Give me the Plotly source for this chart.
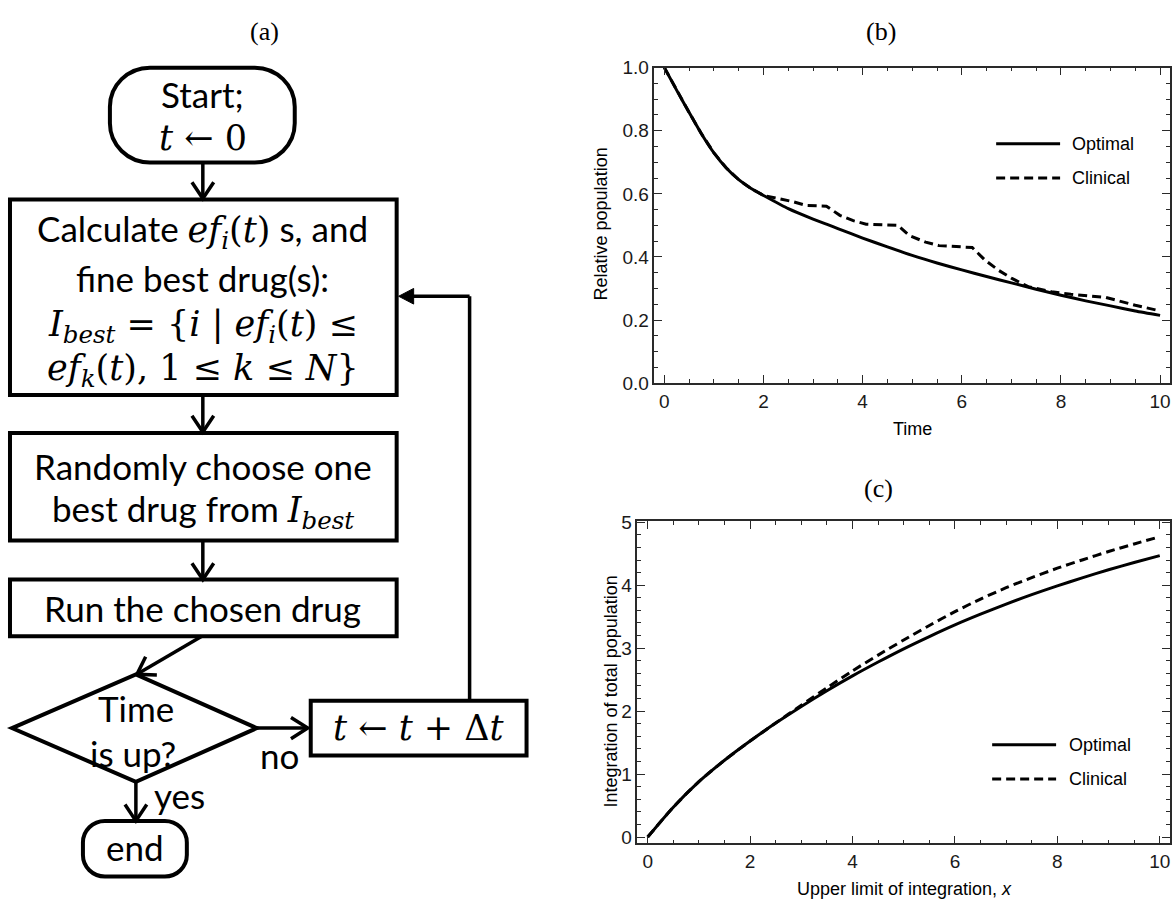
import math
import plotly.graph_objects as go

W, H = 1175, 913

# ---------------- data: panel (b) ----------------
time_opt_b = [0, 0.25, 0.5, 0.75, 1.0, 1.25, 1.5, 1.75, 2.0, 2.5, 3.0, 3.27, 3.5, 4.0,
              4.5, 5.0, 5.5, 6.0, 6.5, 7.0, 7.5, 8.0, 8.5, 9.0, 9.5, 10.0]
optimal_b = [1.0, 0.928, 0.858, 0.79, 0.73, 0.682, 0.645, 0.617, 0.595, 0.553, 0.52, 0.504,
             0.49, 0.46, 0.432, 0.405, 0.381, 0.359, 0.338, 0.318, 0.298, 0.279, 0.261,
             0.245, 0.229, 0.215]
time_clin_b = [0, 0.25, 0.5, 0.75, 1.0, 1.25, 1.5, 1.75, 2.0, 2.34, 2.6, 2.87, 3.27, 3.54,
               3.81, 4.07, 4.4, 4.71, 4.94, 5.27, 5.54, 5.9, 6.21, 6.47, 6.74, 7.01, 7.34,
               7.81, 8.2, 8.9, 9.5, 10.0]
clinical_b = [1.0, 0.928, 0.858, 0.79, 0.73, 0.682, 0.645, 0.617, 0.595, 0.584, 0.575, 0.563,
              0.561, 0.532, 0.515, 0.504, 0.501, 0.500, 0.468, 0.447, 0.436, 0.432, 0.430,
              0.39, 0.358, 0.332, 0.306, 0.29, 0.282, 0.272, 0.247, 0.229]

# ---------------- data: panel (c) ----------------
x_c = [0, 0.5, 1.0, 1.5, 2.0, 2.5, 3.0, 3.5, 4.0, 4.5, 5.0, 5.5, 6.0, 6.5, 7.0, 7.5, 8.0,
       8.5, 9.0, 9.5, 10.0]
optimal_c = [0, 0.475, 0.88, 1.22, 1.525, 1.81, 2.075, 2.325, 2.56, 2.78, 2.99, 3.185, 3.37,
             3.54, 3.70, 3.85, 3.99, 4.12, 4.245, 4.36, 4.47]
clinical_c = [0, 0.475, 0.88, 1.22, 1.525, 1.812, 2.095, 2.37, 2.64, 2.89, 3.13, 3.36, 3.58,
              3.78, 3.96, 4.12, 4.27, 4.405, 4.535, 4.655, 4.77]

series_names = ["Optimal", "Clinical"]
x_ticks = [0, 2, 4, 6, 8, 10]
y_ticks_b = [0.0, 0.2, 0.4, 0.6, 0.8, 1.0]
y_ticks_c = [0, 1, 2, 3, 4, 5]

SANS_PLOT = "Liberation Sans, Arial, sans-serif"
FLOW = "Lato, Open Sans, sans-serif"
MATH = "DejaVu Serif, serif"
SERIF = "Liberation Serif, serif"
INK = "#1a1a1a"
DASH = "9px,5px"


def px(x):
    return x / W


def py(y):
    return 1 - y / H


fig = go.Figure()
fig.add_trace(go.Scatter(x=time_opt_b, y=optimal_b, mode="lines", line=dict(color="black", width=3, shape="spline", smoothing=0.6),
                         xaxis="x", yaxis="y", showlegend=False, name=series_names[0]))
fig.add_trace(go.Scatter(x=time_clin_b, y=clinical_b, mode="lines", line=dict(color="black", width=3, dash=DASH),
                         xaxis="x", yaxis="y", showlegend=False, name=series_names[1]))
fig.add_trace(go.Scatter(x=x_c, y=optimal_c, mode="lines", line=dict(color="black", width=3, shape="spline", smoothing=0.8),
                         xaxis="x2", yaxis="y2", showlegend=False, name=series_names[0]))
fig.add_trace(go.Scatter(x=x_c, y=clinical_c, mode="lines", line=dict(color="black", width=3, dash=DASH, shape="spline", smoothing=0.8),
                         xaxis="x2", yaxis="y2", showlegend=False, name=series_names[1]))


def axis(domain, rng, tickvals, minor_dtick, anchor, fmt=None):
    d = dict(domain=domain, range=rng, anchor=anchor, showline=True, linecolor="#2a2a2a",
             linewidth=1.5, mirror="ticks", ticks="inside", ticklen=8, tickwidth=1.3,
             tickcolor="#2a2a2a", showgrid=False, zeroline=False, tickmode="array",
             tickvals=tickvals, ticktext=[(fmt.format(v) if fmt else str(v)) for v in tickvals],
             tickfont=dict(family=SANS_PLOT, size=19, color=INK),
             minor=dict(ticks="inside", ticklen=4, tickwidth=1.1, tickcolor="#2a2a2a",
                        dtick=minor_dtick, tick0=0, showgrid=False))
    return d


fig.update_layout(
    width=W, height=H, margin=dict(l=0, r=0, t=0, b=0),
    paper_bgcolor="white", plot_bgcolor="white", showlegend=False,
    xaxis=axis([655 / W, 1171 / W], [-0.2, 10.2], x_ticks, 0.5, "y"),
    yaxis=axis([1 - 382 / H, 1 - 59 / H], [0, 1.0], y_ticks_b, 0.05, "x", "{:.1f}"),
    xaxis2=axis([638 / W, 1171 / W], [-0.2, 10.2], x_ticks, 0.5, "y2"),
    yaxis2=axis([1 - 853 / H, 1 - 523 / H], [-0.1, 5.02], y_ticks_c, 0.2, "x2"),
)

shapes = []
ann = []
LW = 4


def line(x0, y0, x1, y1, w=3.5, dash=None):
    d = dict(type="line", xref="paper", yref="paper", x0=px(x0), y0=py(y0), x1=px(x1), y1=py(y1),
             line=dict(color="black", width=w))
    if dash:
        d["line"]["dash"] = dash
    shapes.append(d)


def path(points, close=True, w=LW, fill=None):
    s = "M " + " L ".join(f"{px(x):.5f},{py(y):.5f}" for x, y in points)
    if close:
        s += " Z"
    d = dict(type="path", xref="paper", yref="paper", path=s, line=dict(color="black", width=w))
    if fill:
        d["fillcolor"] = fill
    shapes.append(d)


def rect(x0, y0, x1, y1):
    path([(x0, y0), (x1, y0), (x1, y1), (x0, y1)])


def rrect(x0, y0, x1, y1, r):
    k = 0.5523 * r

    def P(x, y):
        return f"{px(x):.5f},{py(y):.5f}"
    s = (f"M {P(x0 + r, y0)} L {P(x1 - r, y0)} C {P(x1 - r + k, y0)} {P(x1, y0 + r - k)} {P(x1, y0 + r)} "
         f"L {P(x1, y1 - r)} C {P(x1, y1 - r + k)} {P(x1 - r + k, y1)} {P(x1 - r, y1)} "
         f"L {P(x0 + r, y1)} C {P(x0 + r - k, y1)} {P(x0, y1 - r + k)} {P(x0, y1 - r)} "
         f"L {P(x0, y0 + r)} C {P(x0, y0 + r - k)} {P(x0 + r - k, y0)} {P(x0 + r, y0)} Z")
    shapes.append(dict(type="path", xref="paper", yref="paper", path=s, line=dict(color="black", width=LW)))


def arrow(x0, y0, x1, y1, head=20, ang=33):
    line(x0, y0, x1, y1)
    dx, dy = x0 - x1, y0 - y1
    n = math.hypot(dx, dy)
    ux, uy = dx / n, dy / n
    a = math.radians(ang)
    pts = []
    for sgn in (1, -1):
        c, s = math.cos(sgn * a), math.sin(sgn * a)
        pts.append((x1 + head * (ux * c - uy * s), y1 + head * (ux * s + uy * c)))
    path([pts[0], (x1, y1), pts[1]], close=False, w=3.5)


def txt(x, y, s, size, font=FLOW, **kw):
    d = dict(x=px(x), y=py(y), xref="paper", yref="paper", text=s, showarrow=False,
             font=dict(family=font, size=size, color="black"), xanchor="center", yanchor="middle")
    d.update(kw)
    ann.append(d)


def M(s):
    return f'<span style="font-family:DejaVu Serif">{s}</span>'


# ---------------- flowchart (a) ----------------
FS = 35
MS = 35
rrect(110, 59, 295, 156, 40)
txt(203, 86, "Start;", FS)
txt(203, 131, M("<i>t</i> ← 0"), MS, font=MATH)
arrow(203, 156, 203, 193)

rect(10, 194, 397, 394)
txt(203, 226, "Calculate " + M("<i>ef</i><sub><i>i</i></sub>(<i>t</i>)") + " s, and", FS)
txt(203, 274, "fine best drug(s):", FS)
txt(203, 324, "<i>I</i><sub><i>best</i></sub> = {<i>i</i> | <i>ef</i><sub><i>i</i></sub>(<i>t</i>) ≤", MS, font=MATH)
txt(203, 369, "<i>ef</i><sub><i>k</i></sub>(<i>t</i>), 1 ≤ <i>k</i> ≤ <i>N</i>}", MS, font=MATH)
arrow(203, 394, 203, 432)

rect(10, 433, 397, 543)
txt(203, 467, "Randomly choose one", FS)
txt(203, 513, "best drug from " + M("<i>I</i><sub><i>best</i></sub>"), FS)
arrow(203, 543, 203, 583)

rect(10, 583, 397, 641)
txt(203, 612, "Run the chosen drug", FS)
arrow(202, 641, 137, 680)

path([(12, 735), (136, 680), (257, 735), (136, 790)])
txt(136, 714, "Time", FS)
txt(133, 760, "is up?", FS)
arrow(257, 735, 308, 735)
txt(280, 763, "no", FS)

rect(311, 707, 527, 763)
txt(419, 735, M("<i>t</i> ← <i>t</i> + Δ<i>t</i>"), MS, font=MATH)
line(470, 707, 470, 293)
line(470, 293, 405, 293)
path([(399, 293), (414, 285), (414, 301)], close=True, w=1, fill="black")

arrow(136, 790, 136, 830)
txt(180, 803, "yes", FS)
rrect(83, 830, 187, 887, 22)
txt(135, 857, "end", FS)

# ---------------- panel labels ----------------
txt(265, 22, "(a)", 26, font=SERIF)
txt(882, 22, "(b)", 26, font=SERIF)
txt(879, 490, "(c)", 26, font=SERIF)

# ---------------- axis titles ----------------
txt(913, 429, "Time", 18, font=SANS_PLOT)
txt(601, 219, "Relative population", 18, font=SANS_PLOT, textangle=-90)
txt(905, 900, "Upper limit of integration, <i>x</i>", 18, font=SANS_PLOT)
txt(611, 697, "Integration of total population", 18, font=SANS_PLOT, textangle=-90)

# ---------------- legends ----------------
for (lx0, lx1, ly, tx, name, dash) in [
    (997, 1061, 137, 1071, series_names[0], None),
    (997, 1061, 172, 1071, series_names[1], DASH),
    (993, 1057, 752, 1068, series_names[0], None),
    (993, 1057, 787, 1068, series_names[1], DASH),
]:
    line(lx0, ly, lx1, ly, w=3, dash=dash)
    txt(tx, ly, name, 18, font=SANS_PLOT, xanchor="left")

fig.update_layout(shapes=shapes, annotations=ann)
fig.write_html(
    "out.html",
    config={"displayModeBar": False},
    post_script="document.body.style.margin='0';document.body.style.overflow='hidden';",
)
